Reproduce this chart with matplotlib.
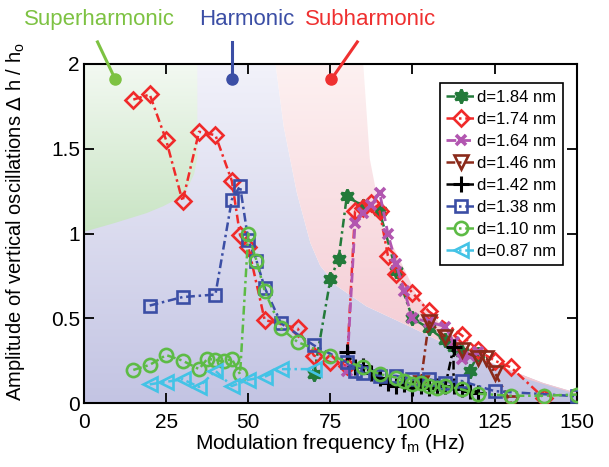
# Amplitude of vertical oscillations vs modulation frequency, several gaps d
import numpy as np
import matplotlib
matplotlib.use('Agg')
import matplotlib.pyplot as plt
import matplotlib.colors as mcolors
from matplotlib.patches import Polygon

plt.rcParams['font.family'] = ['Liberation Sans', 'DejaVu Sans']

# ---- data ----
f_184 = [70, 75, 77.5, 80, 85, 90, 95, 100, 105, 110, 112.5, 115, 117.5, 120]
a_184 = [0.17, 0.73, 0.85, 1.22, 1.16, 1.13, 0.78, 0.50, 0.44, 0.37, 0.33, 0.30, 0.19, 0.29]

f_174 = [15, 20, 25, 30, 35, 40, 45, 47.5, 50, 55, 65, 70, 75, 80, 82.5, 85, 87.5, 90,
         92.5, 95, 100, 105, 115, 120, 125, 130, 140]
a_174 = [1.79, 1.82, 1.55, 1.19, 1.60, 1.58, 1.31, 0.99, 0.92, 0.49, 0.44, 0.28, 0.24, 0.22,
         1.13, 1.15, 1.18, 1.13, 0.87, 0.76, 0.65, 0.54, 0.40, 0.31, 0.25, 0.21, 0.03]

f_164 = [80, 82.5, 85, 87.5, 90, 92.5, 95, 97.5, 100, 105, 110, 112.5, 115, 117.5, 120]
a_164 = [0.19, 1.06, 1.12, 1.17, 1.24, 1.00, 0.82, 0.66, 0.50, 0.48, 0.45, 0.36, 0.26, 0.28, 0.30]

f_146 = [102.5, 105, 110, 115, 120, 122.5, 125, 130]
a_146 = [0.12, 0.48, 0.39, 0.31, 0.265, 0.265, 0.18, 0.0]

f_142 = [80, 82.5, 85, 87.5, 90, 92.5, 95, 97.5, 100, 102.5, 105, 107.5, 110, 112.5,
         112.5, 115, 117.5, 120]
a_142 = [0.30, 0.21, 0.22, 0.18, 0.15, 0.12, 0.10, 0.11, 0.09, 0.10, 0.09, 0.10, 0.10, 0.33,
         0.10, 0.08, 0.07, 0.06]

f_138 = [20, 30, 40, 45, 47.5, 50, 52.5, 55, 60, 70, 80, 82.5, 85, 90, 95, 100, 105, 110,
         115, 125, 150]
a_138 = [0.575, 0.625, 0.64, 1.20, 1.28, 0.96, 0.84, 0.68, 0.47, 0.34, 0.24, 0.19, 0.18, 0.16,
         0.16, 0.14, 0.14, 0.12, 0.13, 0.07, 0.04]

f_110 = [15, 20, 25, 30, 35, 37.5, 40, 42.5, 45, 47.5, 50, 52.5, 55, 60, 65, 75, 85, 90, 95,
         97.5, 100, 102.5, 105, 107.5, 110, 115, 120, 130, 140, 150]
a_110 = [0.195, 0.225, 0.283, 0.25, 0.20, 0.26, 0.255, 0.245, 0.26, 0.17, 1.0, 0.84, 0.66,
         0.44, 0.36, 0.28, 0.21, 0.17, 0.15, 0.13, 0.11, 0.12, 0.10, 0.09, 0.10, 0.08, 0.055,
         0.043, 0.043, 0.05]

f_087 = [20, 25, 30, 35, 40, 45, 50, 55, 60, 70]
a_087 = [0.11, 0.125, 0.14, 0.095, 0.19, 0.10, 0.137, 0.155, 0.20, 0.20]

# regime boundaries (shaded regions)
super_x = [0, 34.5, 34.5, 33.5, 31.3, 28, 24, 19, 9, 0]
super_y = [2, 2, 1.45, 1.35, 1.26, 1.20, 1.16, 1.12, 1.06, 1.01]
sub_lo_x = [58.3, 60.8, 64.8, 68.9, 71.9, 77, 86, 99.3, 111.4, 126.6, 139.8, 150]
sub_lo_y = [2.0, 1.63, 1.24, 0.945, 0.81, 0.69, 0.57, 0.45, 0.335, 0.217, 0.118, 0.06]
sub_hi_x = [150, 147, 135, 121.6, 109, 101, 96, 91, 87, 85]
sub_hi_y = [0.05, 0.07, 0.14, 0.26, 0.45, 0.65, 0.85, 1.04, 1.44, 2.0]


def shade(ax, xs, ys, c_lo, c_hi, y0, y1, z):
    patch = Polygon(np.column_stack([xs, ys]), closed=True, fc='none', ec='none')
    ax.add_patch(patch)
    lo = np.array(mcolors.to_rgb(c_lo))
    hi = np.array(mcolors.to_rgb(c_hi))
    t = np.linspace(0, 1, 256)[:, None]
    img = (lo + (hi - lo) * t)[:, None, :]
    im = ax.imshow(img, extent=[0, 150, y0, y1], origin='lower', aspect='auto',
                   interpolation='bilinear', zorder=z)
    im.set_clip_path(patch)


fig = plt.figure(figsize=(6.09, 4.67), dpi=100)
ax = fig.add_axes([0.138, 0.137, 0.809, 0.726])

# lavender (harmonic) everywhere left/below of subharmonic band
lav_x = [0, 150] + sub_lo_x[::-1] + [0]
lav_y = [0, 0] + sub_lo_y[::-1] + [2]
shade(ax, lav_x, lav_y, '#c3c4e3', '#f2f2fa', 0, 2, 0)
shade(ax, sub_lo_x + sub_hi_x, sub_lo_y + sub_hi_y, '#f3c6d0', '#fdf1f1', 0, 2, 0.1)
shade(ax, super_x, super_y, '#c8e4c3', '#f3f9f2', 1, 2, 0.2)

dash = (3.5, 1.5, 1.0, 1.5)
common = dict(lw=1.8, mew=1.9)
ax.plot(f_184, a_184, color='#237a3a', marker=(6, 1, 0), ms=10, dashes=dash,
        label='d=1.84 nm', zorder=3, **common)
ax.plot(f_174, a_174, color='#f02a2a', marker='D', ms=8.5, mfc='none', dashes=dash,
        label='d=1.74 nm', zorder=3, **common)
ax.plot(f_164, a_164, color='#b256b0', marker='x', ms=7.5, lw=2.0, mew=2.6,
        dashes=(3.5, 1.8), label='d=1.64 nm', zorder=3)
ax.plot(f_146, a_146, color='#8b2a1a', marker='v', ms=10, mfc='none', dashes=dash,
        label='d=1.46 nm', zorder=3, **common)
ax.plot(f_142, a_142, color='black', marker='+', ms=11, lw=1.8, mew=2.2,
        dashes=dash, label='d=1.42 nm', zorder=3)
ax.plot(f_138, a_138, color='#3b4ea5', marker='s', ms=8, mfc='none', dashes=dash,
        label='d=1.38 nm', zorder=3, **common)
ax.plot(f_110, a_110, color='#5dbb45', marker='o', ms=9.5, mfc='none', dashes=dash,
        label='d=1.10 nm', zorder=3, **common)
ax.plot(f_087, a_087, color='#43c3e6', marker='<', ms=10, mfc='none', dashes=dash,
        label='d=0.87 nm', zorder=3, **common)

ax.set_xlim(0, 150)
ax.set_ylim(0, 2)
ax.set_xticks([0, 25, 50, 75, 100, 125, 150])
ax.set_yticks([0, 0.5, 1, 1.5, 2])
ax.set_yticklabels(['0', '0.5', '1', '1.5', '2'])
ax.tick_params(direction='in', length=7, width=1.3, labelsize=15, top=True, right=True)
ax.tick_params(axis='x', pad=7)
ax.tick_params(axis='y', pad=3)
for s in ax.spines.values():
    s.set_linewidth(1.5)

ax.set_xlabel('Modulation frequency f$_\\mathregular{m}$ (Hz)', fontsize=15, labelpad=0)
ax.set_ylabel('Amplitude of vertical oscillations $\\Delta$ h / h$_\\mathregular{o}$',
              fontsize=14.5)
ax.yaxis.set_label_coords(-0.115, 0.535)

leg = ax.legend(loc='upper left', bbox_to_anchor=(0.722, 0.944), borderaxespad=0,
                fontsize=12, handlelength=1.7, handletextpad=0.15, labelspacing=0.42,
                borderpad=0.4, fancybox=False, framealpha=1)
leg.get_frame().set_edgecolor('black')
leg.get_frame().set_linewidth(1.2)
leg.set_zorder(5)

# regime labels with pointers
labels = ['Superharmonic', 'Harmonic', 'Subharmonic']
label_cols = ['#7dc242', '#3b4ea5', '#ef3030']
label_x = [4.8, 49.5, 87.3]
dot_x = [9.5, 45, 75.3]
top_x = [4.1, 45, 83.2]
for txt, c, lx, dx, tx in zip(labels, label_cols, label_x, dot_x, top_x):
    ax.text(lx, 2.265, txt, color=c, fontsize=16, ha='center', va='center', clip_on=False)
    ax.plot([tx, dx], [2.13, 1.91], color=c, lw=2.2, clip_on=False, zorder=6)
    ax.plot([dx], [1.91], 'o', color=c, ms=8, clip_on=False, zorder=6)

fig.savefig('out.png', dpi=100)
